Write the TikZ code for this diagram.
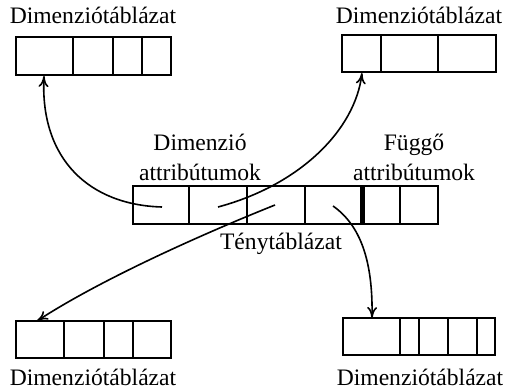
\documentclass[tikz,border=0pt]{standalone}
\usepackage{fontspec}
\setmainfont{Liberation Serif}
\usepackage{tikz}
\usetikzlibrary{arrows.meta,positioning}

\begin{document}
\begin{tikzpicture}[
    x=0.5pt, y=-0.5pt,
    tbl/.style 2 args={rectangle, draw, line width=0.9pt, minimum width=#1, minimum height=#2, inner sep=0pt},
    cell/.style={line width=0.9pt},
    lbl/.style={font=\fontsize{11.8}{15}\selectfont, align=center, inner sep=0pt},
    arrow/.style={-{To[length=5.5pt,width=5pt]}, line width=0.8pt}
  ]
    \useasboundingbox (0,0) rectangle (508,390);

    % Dimension tables
    \node[tbl={77.5pt}{19pt}] (dimtl) at (93.5,56) {};
    \node[tbl={77pt}{18.5pt}] (dimtr) at (419,53.5) {};
    \node[tbl={77.5pt}{18.5pt}] (dimbl) at (93.5,339.5) {};
    \node[tbl={76pt}{18.5pt}] (dimbr) at (419,336.5) {};
    \foreach \x in {73,113,142} \draw[cell] (\x,37) -- (\x,75);
    \foreach \x in {381,438} \draw[cell] (\x,35) -- (\x,72);
    \foreach \x in {64,104,133} \draw[cell] (\x,321) -- (\x,358);
    \foreach \x in {400,419,448,477} \draw[cell] (\x,318) -- (\x,355);

    % Fact table
    \node[tbl={152.5pt}{19pt}] (fact) at (285.5,205) {};
    \foreach \x in {189,247,305,400} \draw[cell] (\x,186) -- (\x,224);
    \draw[line width=2.5pt] (362,186) -- (362,224);

    % Labels
    \node[lbl] (ltl) at (93,15) {Dimenziótáblázat};
    \node[lbl] (ltr) at (419,15) {Dimenziótáblázat};
    \node[lbl] (lbl) at (93,377) {Dimenziótáblázat};
    \node[lbl] (lbr) at (420,377) {Dimenziótáblázat};
    \node[lbl] (ldim) at (200,157) {Dimenzió\\attribútumok};
    \node[lbl] (ldep) at (414,157) {Függő\\attribútumok};
    \node[lbl] (lfact) at (281,244) {Ténytáblázat};

    % Connections
    \coordinate (s1) at (162,207);
    \coordinate (s2) at (218,207);
    \coordinate (s3) at (275,205);
    \coordinate (s4) at (333,206);
    \coordinate (e1) at (44,76);
    \coordinate (e2) at (362,73);
    \coordinate (e3) at (37,321);
    \coordinate (e4) at (372,318);
    \draw[arrow] (s1) .. controls (90,205) and (40,160) .. (e1);
    \draw[arrow] (s2) .. controls (300,185) and (355,130) .. (e2);
    \draw[arrow] (s3) .. controls (200,235) and (100,280) .. (e3);
    \draw[arrow] (s4) .. controls (360,225) and (373,260) .. (e4);
  \end{tikzpicture}
\end{document}
